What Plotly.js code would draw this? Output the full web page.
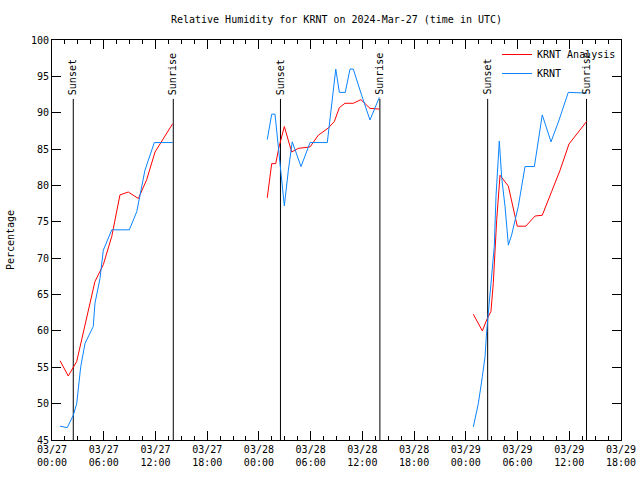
<!DOCTYPE html>
<html>
<head>
<meta charset="utf-8">
<script src="https://cdn.plot.ly/plotly-3.0.1.min.js"></script>
<style>html,body{margin:0;padding:0;background:#fff;}#chart{width:640px;height:480px;}</style>
</head>
<body>
<div id="chart"></div>
<script>
// KRNT Analysis (hourly), segments separated by null
const analysisTime = [
  "2024-03-27 00:56","2024-03-27 01:53","2024-03-27 02:52","2024-03-27 03:27","2024-03-27 04:02",
  "2024-03-27 04:59","2024-03-27 05:57","2024-03-27 06:56","2024-03-27 07:53","2024-03-27 08:51",
  "2024-03-27 10:01","2024-03-27 10:59","2024-03-27 11:57","2024-03-27 12:55","2024-03-27 14:00",
  "2024-03-27 19:00",
  "2024-03-28 00:58","2024-03-28 01:17","2024-03-28 01:29","2024-03-28 01:57","2024-03-28 02:20",
  "2024-03-28 02:57","2024-03-28 03:48","2024-03-28 04:34","2024-03-28 05:56","2024-03-28 06:53",
  "2024-03-28 08:03","2024-03-28 08:45","2024-03-28 09:20","2024-03-28 09:59","2024-03-28 10:57",
  "2024-03-28 11:50","2024-03-28 12:53","2024-03-28 13:58",
  "2024-03-28 19:00",
  "2024-03-29 00:52","2024-03-29 01:55","2024-03-29 02:25","2024-03-29 02:55","2024-03-29 03:11",
  "2024-03-29 03:35","2024-03-29 03:58","2024-03-29 04:56","2024-03-29 05:58","2024-03-29 06:57",
  "2024-03-29 08:02","2024-03-29 08:52","2024-03-29 09:58","2024-03-29 10:56","2024-03-29 11:58",
  "2024-03-29 12:59","2024-03-29 14:01"
];
const analysisRH = [
  55.9,53.8,55.8,58.8,61.5,66.8,69.1,73.0,78.7,79.1,78.2,80.8,84.6,86.5,88.5,
  null,
  78.3,81.2,83.0,83.0,85.3,88.1,84.6,85.1,85.3,86.9,87.9,88.8,90.7,91.3,91.3,91.8,90.6,90.5,
  null,
  62.3,60.0,61.5,62.7,66.5,75.3,81.4,79.9,74.4,74.4,75.8,75.9,79.2,82.1,85.7,87.2,88.8
];

// KRNT observations
const obsTime = [
  "2024-03-27 00:56","2024-03-27 01:46","2024-03-27 02:28","2024-03-27 02:52","2024-03-27 03:20",
  "2024-03-27 03:50","2024-03-27 04:47","2024-03-27 04:59","2024-03-27 05:34","2024-03-27 05:57",
  "2024-03-27 06:56","2024-03-27 08:58","2024-03-27 09:50","2024-03-27 10:13","2024-03-27 10:47",
  "2024-03-27 11:52","2024-03-27 14:00",
  "2024-03-27 19:00",
  "2024-03-28 00:58","2024-03-28 01:29","2024-03-28 01:52","2024-03-28 02:22","2024-03-28 02:38",
  "2024-03-28 02:57","2024-03-28 03:25","2024-03-28 03:52","2024-03-28 04:53","2024-03-28 05:56",
  "2024-03-28 07:56","2024-03-28 08:20","2024-03-28 08:55","2024-03-28 09:20","2024-03-28 10:01",
  "2024-03-28 10:34","2024-03-28 10:57","2024-03-28 11:55","2024-03-28 12:53","2024-03-28 13:58",
  "2024-03-28 19:00",
  "2024-03-29 00:52","2024-03-29 01:27","2024-03-29 01:55","2024-03-29 02:14","2024-03-29 02:25",
  "2024-03-29 02:41","2024-03-29 03:00","2024-03-29 03:18","2024-03-29 03:30","2024-03-29 03:46",
  "2024-03-29 03:53","2024-03-29 04:10","2024-03-29 04:33","2024-03-29 04:56","2024-03-29 05:19",
  "2024-03-29 06:05","2024-03-29 06:52","2024-03-29 07:57","2024-03-29 08:52","2024-03-29 09:53",
  "2024-03-29 10:49","2024-03-29 11:53","2024-03-29 12:24","2024-03-29 14:01"
];
const obsRH = [
  46.9,46.7,48.4,50.0,55.1,58.3,60.6,63.8,67.2,71.1,73.9,73.9,76.4,78.9,82.1,85.9,85.9,
  null,
  86.3,89.8,89.8,83.5,80.5,77.2,82.1,86.0,82.6,85.9,85.9,90.4,96.0,92.8,92.8,96.0,96.0,92.4,89.0,92.1,
  null,
  46.8,50.0,53.7,56.5,59.9,63.3,67.5,71.6,78.5,84.0,86.1,81.0,77.1,71.8,73.2,77.1,82.6,82.6,89.7,86.0,89.0,92.8,92.8,92.7
];

// Sunset / sunrise markers
const sunTimes  = ["2024-03-27 02:28","2024-03-27 14:04","2024-03-28 02:30","2024-03-28 14:02","2024-03-29 02:32","2024-03-29 14:00"];
const sunLabels = ["Sunset","Sunrise","Sunset","Sunrise","Sunset","Sunrise"];
const sunLineTop = 91.9;

// Axis ticks
const xTickVals = ["2024-03-27 00:00","2024-03-27 06:00","2024-03-27 12:00","2024-03-27 18:00",
                   "2024-03-28 00:00","2024-03-28 06:00","2024-03-28 12:00","2024-03-28 18:00",
                   "2024-03-29 00:00","2024-03-29 06:00","2024-03-29 12:00","2024-03-29 18:00"];
const xTickText = ["03/27<br>00:00","03/27<br>06:00","03/27<br>12:00","03/27<br>18:00",
                   "03/28<br>00:00","03/28<br>06:00","03/28<br>12:00","03/28<br>18:00",
                   "03/29<br>00:00","03/29<br>06:00","03/29<br>12:00","03/29<br>18:00"];
const yTickVals = [45,50,55,60,65,70,75,80,85,90,95,100];

const FONT = "DejaVu Sans Mono, monospace";

const traces = [];
sunTimes.forEach((t) => {
  traces.push({x:[t,t], y:[45, sunLineTop], mode:"lines", line:{color:"#000", width:1},
               showlegend:false, hoverinfo:"skip"});
});
traces.push({x:analysisTime, y:analysisRH, name:"KRNT Analysis", mode:"lines",
             line:{color:"#ff0000", width:1}, connectgaps:false});
traces.push({x:obsTime, y:obsRH, name:"KRNT", mode:"lines",
             line:{color:"#0a84ff", width:1}, connectgaps:false});

const annotations = sunTimes.map((t,i) => ({
  x:t, y:sunLineTop, xref:"x", yref:"y", text:sunLabels[i], textangle:-90,
  showarrow:false, xanchor:"center", yanchor:"bottom", yshift:2,
  font:{family:FONT, size:10, color:"#000"}
}));

const layout = {
  width:640, height:480,
  margin:{l:52, r:19, t:40, b:40},
  paper_bgcolor:"#fff", plot_bgcolor:"#fff",
  font:{family:FONT, size:10, color:"#000"},
  title:{text:"Relative Humidity for KRNT on 2024-Mar-27 (time in UTC)",
         font:{family:FONT, size:10, color:"#000"}, x:0.5, xref:"paper", y:0.96, yref:"container", yanchor:"middle"},
  xaxis:{type:"date", range:["2024-03-27 00:00","2024-03-29 18:00"],
         tickmode:"array", tickvals:xTickVals, ticktext:xTickText,
         ticks:"inside", ticklen:9, tickcolor:"#000", tickwidth:1,
         minor:{dtick:1.5*3600*1000, tick0:"2024-03-27 00:00", ticks:"inside", ticklen:4, tickcolor:"#000"},
         showline:true, linecolor:"#000", linewidth:1, mirror:"ticks",
         showgrid:false, zeroline:false, tickangle:0,
         tickfont:{family:FONT, size:10, color:"#000"}},
  yaxis:{range:[45,100], tickmode:"array", tickvals:yTickVals,
         ticks:"inside", ticklen:9, tickcolor:"#000", tickwidth:1,
         showline:true, linecolor:"#000", linewidth:1, mirror:"ticks",
         showgrid:false, zeroline:false,
         title:{text:"Percentage", font:{family:FONT, size:10, color:"#000"}, standoff:14},
         tickfont:{family:FONT, size:10, color:"#000"}},
  legend:{x:1, y:1, xanchor:"right", yanchor:"top", bgcolor:"rgba(0,0,0,0)",
          font:{family:FONT, size:10, color:"#000"}, tracegroupgap:0},
  annotations:annotations,
  showlegend:true
};

Plotly.newPlot("chart", traces, layout, {displayModeBar:false, staticPlot:true});
</script>
</body>
</html>
